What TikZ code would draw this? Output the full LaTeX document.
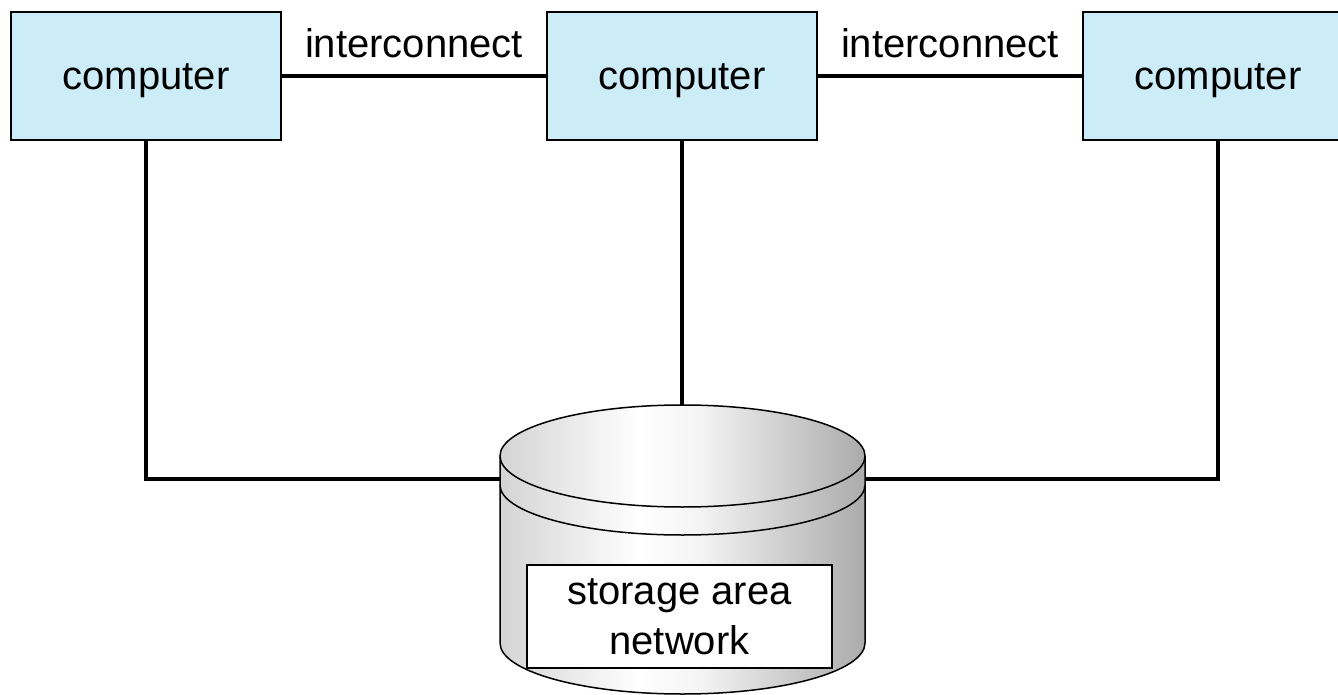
\documentclass[tikz,border=0pt]{standalone}
\usepackage{fontspec}
\setmainfont{Liberation Sans}
\definecolor{boxblue}{RGB}{204,237,248}
\pgfdeclarehorizontalshading{cylshade}{100bp}{color(0bp)=(black!17); color(25bp)=(black!17); color(44bp)=(white); color(52bp)=(white!96!black); color(75bp)=(black!33); color(100bp)=(black!33)}
\begin{document}
\begin{tikzpicture}[x=1pt,y=1pt,
  comp/.style={draw=black, line width=1.5pt, fill=boxblue, minimum width=270pt, minimum height=128pt, inner sep=0pt, text height=36pt, text depth=8pt, font=\fontsize{40}{48}\selectfont},
  wire/.style={line width=4pt},
  lbl/.style={font=\fontsize{40}{48}\selectfont, anchor=base, inner sep=0pt},
  cylline/.style={line width=1.5pt}]
\useasboundingbox (0,0) rectangle (1338,-695);
% computers
\node[comp] (c1) at (146,-76) {computer};
\node[comp] (c2) at (682,-76) {computer};
\node[comp] (c3) at (1218,-76) {computer};
% cylinder anchors
\coordinate (cyltop) at (682,-405);
\coordinate (cylL) at (500,-479);
\coordinate (cylR) at (865,-479);
% connectors (behind cylinder)
\draw[wire] (c1.south) |- (cylL);
\draw[wire] (c3.south) |- (cylR);
\draw[wire] (c2.south) -- (cyltop);
\draw[wire] (c1.east) -- node[lbl, midway, yshift=18pt] (i1) {interconnect} (c2.west);
\draw[wire] (c2.east) -- node[lbl, midway, yshift=18pt] (i2) {interconnect} (c3.west);
% cylinder body
\shade[shading=cylshade] (500pt,-456pt) -- (500pt,-643pt) arc[start angle=180, end angle=360, x radius=182.5pt, y radius=51pt] -- (865pt,-456pt) -- cycle;
\draw[cylline] (500pt,-456pt) -- (500pt,-643pt) arc[start angle=180, end angle=360, x radius=182.5pt, y radius=51pt] -- (865pt,-456pt);
% rim
\draw[cylline] (500pt,-485pt) arc[start angle=180, end angle=360, x radius=182.5pt, y radius=50pt];
% top ellipse
\shade[shading=cylshade, draw=black, line width=1.5pt] (682.5pt,-456pt) ellipse[x radius=182.5pt, y radius=51pt];
% storage label
\node[draw=black, line width=1.5pt, fill=white, minimum width=305pt, minimum height=103pt, inner sep=0pt, align=center, font=\fontsize{40}{50}\selectfont] (san) at (679.5,-616.5) {storage area\\network};
\end{tikzpicture}
\end{document}
